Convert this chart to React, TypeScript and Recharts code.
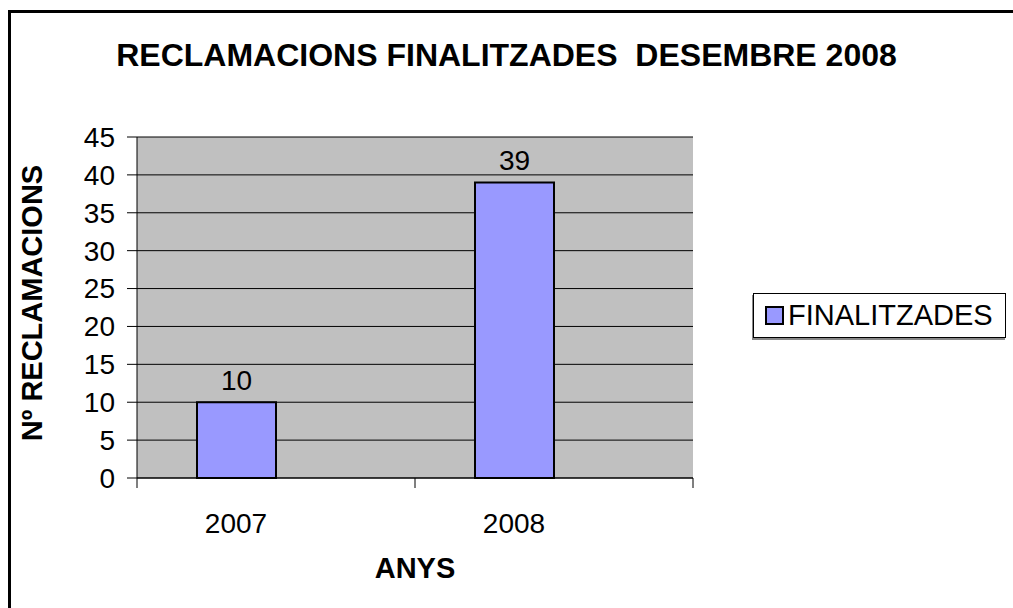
import { BarChart, Bar, XAxis, YAxis, CartesianGrid, LabelList } from 'recharts';

const years = ['2007', '2008'];
const finalitzades = [10, 39];
const yTicks = [0, 5, 10, 15, 20, 25, 30, 35, 40, 45];

const data = years.map((year, i) => ({ year, finalitzades: finalitzades[i], blank: null }));

const FONT = '"Liberation Sans", Arial, sans-serif';
const BAR_FILL = '#9999FF';
const BAND = 278; // width of one category slot

const XTick = (props: any) => {
  const { x, y, payload, index } = props;
  return (
    <g>
      {index === 0 && <line x1={x - BAND / 2} x2={x - BAND / 2} y1={y} y2={y + 10} stroke="#000" />}
      <line x1={x + BAND / 2} x2={x + BAND / 2} y1={y} y2={y + 10} stroke="#000" />
      <text x={x - 40} y={y + 55} textAnchor="middle" fontSize={28} fontFamily={FONT} fill="#000">
        {payload.value}
      </text>
    </g>
  );
};

const LegendBox = () => (
  <div
    style={{
      position: 'absolute', left: 753, top: 293, width: 253, height: 45,
      border: '1px solid #000',
      boxShadow: '-1px 2px 0 #888',
      display: 'flex',
      alignItems: 'center',
      paddingLeft: 11,
      background: '#fff',
      boxSizing: 'border-box',
    }}
  >
    <span style={{ width: 15, height: 15, border: '2px solid #000', background: BAR_FILL, display: 'inline-block' }} />
    <span style={{ marginLeft: 4, fontSize: 29, fontFamily: FONT, color: '#000', lineHeight: 1 }}>FINALITZADES</span>
  </div>
);

export default function App() {
  return (
    <div style={{ position: 'absolute', left: 0, top: 0, width: 1013, height: 608, background: '#fff', overflow: 'hidden' }}>
      <div style={{ position: 'absolute', left: 8, top: 10, width: 1100, height: 700, borderLeft: '3px solid #000', borderTop: '3px solid #000' }} />
      <div
        style={{
          position: 'absolute', left: 0, width: 1013, top: 37, textAlign: 'center',
          fontFamily: FONT, fontWeight: 'bold', fontSize: 32, lineHeight: '36px', color: '#000',
        }}
      >
        RECLAMACIONS FINALITZADES&nbsp; DESEMBRE 2008
      </div>
      <div
        style={{
          position: 'absolute', left: 32, top: 303, transform: 'translate(-50%, -50%) rotate(-90deg)',
          whiteSpace: 'nowrap', fontFamily: FONT, fontWeight: 'bold', fontSize: 29, lineHeight: '34px', color: '#000',
        }}
      >
        Nº RECLAMACIONS
      </div>
      <div
        style={{
          position: 'absolute', left: 415, top: 568, transform: 'translate(-50%, -50%)',
          fontFamily: FONT, fontWeight: 'bold', fontSize: 29, lineHeight: '34px', color: '#000',
        }}
      >
        ANYS
      </div>
      <div style={{ position: 'absolute', left: 0, top: 0 }}>
        <BarChart
          width={1013}
          height={608}
          data={data}
          margin={{ top: 137, right: 320, bottom: 70, left: 77 }}
          barGap={0}
        >
          <CartesianGrid vertical={false} stroke="#000" fill="#C0C0C0" fillOpacity={1} />
          <XAxis
            dataKey="year"
            height={60}
            tickSize={0}
            tickMargin={0}
            tickLine={false}
            axisLine={{ stroke: '#000' }}
            tick={<XTick />}
            interval={0}
          />
          <YAxis
            width={60}
            domain={[0, 45]}
            ticks={yTicks}
            tickSize={10}
            tickMargin={12}
            interval={0}
            axisLine={{ stroke: '#000' }}
            tickLine={{ stroke: '#000' }}
            tick={{ fill: '#000', fontSize: 28, fontFamily: FONT }}
          />
          <Bar dataKey="finalitzades" name="FINALITZADES" fill={BAR_FILL} stroke="#000" strokeWidth={2} barSize={79} isAnimationActive={false}>
            <LabelList dataKey="finalitzades" position="top" offset={12} fontSize={28} fontFamily={FONT} fill="#000" />
          </Bar>
          <Bar dataKey="blank" fill="none" barSize={79} isAnimationActive={false} legendType="none" />
        </BarChart>
      </div>
      <LegendBox />
    </div>
  );
}
